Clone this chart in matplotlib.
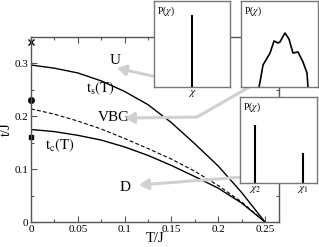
import matplotlib
matplotlib.use("Agg")
import matplotlib.pyplot as plt
from matplotlib.ticker import MultipleLocator

plt.rcParams['font.family'] = ['Liberation Serif', 'DejaVu Serif']
plt.rcParams['mathtext.fontset'] = 'stix'

# ---- data ----
T_grid = [0, 0.025, 0.05, 0.075, 0.1, 0.125, 0.15, 0.175, 0.2, 0.225, 0.25]
ts_vals = [0.297, 0.291, 0.282, 0.267, 0.247, 0.222, 0.188, 0.148, 0.106, 0.056, 0.0]
vbg_vals = [0.214, 0.204, 0.191, 0.176, 0.158, 0.139, 0.119, 0.096, 0.069, 0.038, 0.0]
tc_vals = [0.175, 0.171, 0.164, 0.155, 0.142, 0.126, 0.107, 0.086, 0.064, 0.036, 0.0]

marker_x_t = 0.34
marker_circle_t = 0.231
marker_square_t = 0.160

xticks = [0, 0.05, 0.1, 0.15, 0.2, 0.25]
xtick_labels = ['0', '0.05', '0.1', '0.15', '0.2', '0.25']
yticks = [0, 0.1, 0.2, 0.3]
ytick_labels = ['0', '0.1', '0.2', '0.3']

# inset distributions
inset1_pos = [0.5]
inset1_h = [0.84]
inset2_x = [0.234, 0.247, 0.286, 0.377, 0.429, 0.481, 0.506, 0.571, 0.623, 0.675, 0.740, 0.805, 0.857, 0.870]
inset2_y = [0.0, 0.058, 0.256, 0.395, 0.535, 0.512, 0.523, 0.628, 0.558, 0.395, 0.407, 0.291, 0.163, 0.0]
inset3_pos = [0.195, 0.818]
inset3_h = [0.674, 0.349]
inset3_labels = [r'$\chi_2$', r'$\chi_1$']

W, H = 319, 247
fig = plt.figure(figsize=(W / 100, H / 100), dpi=100)

def frac(x0, y0, x1, y1):
    return [x0 / W, 1 - y1 / H, (x1 - x0) / W, (y1 - y0) / H]

spine_col = '#555555'
ax = fig.add_axes(frac(31, 37, 279, 222))
ax.plot(T_grid, ts_vals, color='black', lw=1.0)
ax.plot(T_grid, vbg_vals, color='black', lw=0.8, ls=(0, (3.5, 2)))
ax.plot(T_grid, tc_vals, color='black', lw=1.0)
ax.plot([0], [marker_x_t], marker='x', color='black', ms=4, mew=1, clip_on=False)
ax.plot([0], [marker_circle_t], marker='o', color='black', ms=4, clip_on=False)
ax.plot([0], [marker_square_t], marker='s', color='black', ms=3.5, clip_on=False)

ax.set_xlim(0, 0.265)
ax.set_ylim(0, 0.35)
ax.set_xticks(xticks)
ax.set_xticklabels(xtick_labels)
ax.set_yticks(yticks)
ax.set_yticklabels(ytick_labels)
ax.xaxis.set_minor_locator(MultipleLocator(0.025))
ax.yaxis.set_minor_locator(MultipleLocator(0.05))
ax.tick_params(which='both', direction='in', top=True, right=True, colors=spine_col,
               labelcolor='black', labelsize=8, pad=2)
ax.tick_params(which='major', length=4, width=0.8)
ax.tick_params(which='minor', length=2, width=0.8)
for s in ax.spines.values():
    s.set_color(spine_col)
    s.set_linewidth(1.0)
ax.set_xlabel('T/J', fontsize=10.5, labelpad=-1)
ax.set_ylabel('t/J', fontsize=10.5, labelpad=1)

# labels
ax.text(0.0897, 0.305, 'U', fontsize=11, ha='center', va='center')
ax.text(0.074, 0.253, r'$\mathrm{t_s(T)}$', fontsize=10.5, ha='center', va='center')
ax.text(0.0885, 0.198, 'VBG', fontsize=11, ha='center', va='center')
ax.text(0.0305, 0.146, r'$\mathrm{t_c(T)}$', fontsize=10.5, ha='center', va='center')
ax.text(0.1005, 0.066, 'D', fontsize=11, ha='center', va='center')

# grey arrows
gcol = '#d0d0d0'
ap = dict(arrowstyle='-|>,head_length=0.6,head_width=0.35', color=gcol, lw=2.2,
          shrinkA=0, shrinkB=0, mutation_scale=9)
ax.annotate('', xy=(0.0918, 0.2913), xytext=(0.145, 0.270), arrowprops=ap,
            annotation_clip=False)
ax.plot([0.235, 0.1774], [0.257, 0.1986], color=gcol, lw=2.2, solid_capstyle='butt',
        clip_on=False, zorder=1)
ax.annotate('', xy=(0.1004, 0.1967), xytext=(0.1774, 0.1986), arrowprops=ap,
            annotation_clip=False)
ax.annotate('', xy=(0.1155, 0.070), xytext=(0.2265, 0.0851), arrowprops=ap,
            annotation_clip=False)

# insets
icol = '#777777'

def make_inset(rect):
    a = fig.add_axes(rect)
    a.set_xlim(0, 1)
    a.set_ylim(0, 1)
    a.set_xticks([])
    a.set_yticks([])
    a.set_facecolor('white')
    for s in a.spines.values():
        s.set_color(icol)
        s.set_linewidth(1.0)
    a.text(0.04, 0.96, r'P($\chi$)', fontsize=7, ha='left', va='top', transform=a.transAxes)
    return a

a1 = make_inset(frac(154, 1, 230, 87))
a1.vlines(inset1_pos, 0, inset1_h, color='black', lw=1.5)
a1.set_xticks(inset1_pos)
a1.set_xticklabels([r'$\chi$'])
a1.tick_params(length=0, labelsize=8, pad=1)

a2 = make_inset(frac(241, 1, 318, 87))
a2.plot(inset2_x, inset2_y, color='black', lw=1.2)

a3 = make_inset(frac(240, 97, 317, 183))
a3.vlines(inset3_pos, 0, inset3_h, color='black', lw=1.5)
a3.set_xticks(inset3_pos)
a3.set_xticklabels(inset3_labels)
a3.tick_params(length=0, labelsize=8, pad=1)

fig.savefig('out.png', dpi=100)
